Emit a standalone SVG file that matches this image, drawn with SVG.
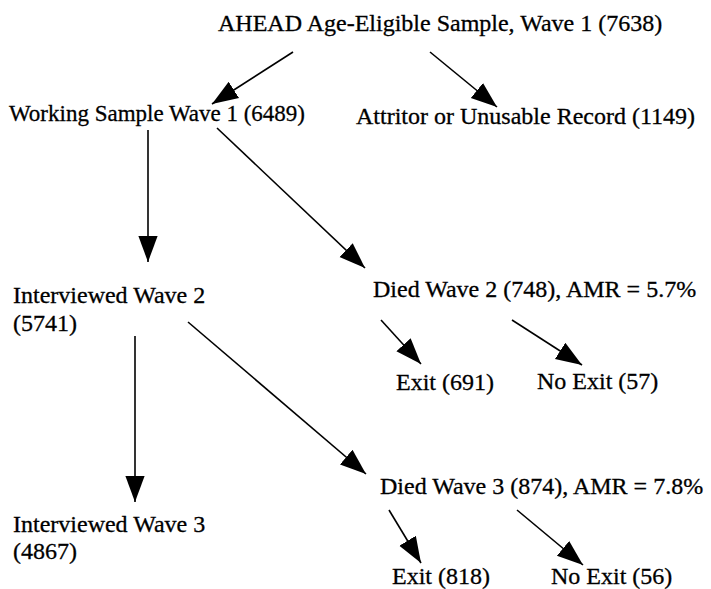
<svg xmlns="http://www.w3.org/2000/svg" width="711" height="589" viewBox="0 0 711 589">
<defs>
<marker id="ah" viewBox="0 0 10 10" refX="10" refY="5" markerWidth="26" markerHeight="26" markerUnits="userSpaceOnUse" orient="auto">
<path d="M0,1.3 L10,5 L0,8.7 Z" fill="#000"/>
</marker>
<style>
text{font-family:"Liberation Serif","Times New Roman",serif;font-size:24px;fill:#000;stroke:#000;stroke-width:0.3}
.c line{stroke:#000;stroke-width:1.6;marker-end:url(#ah)}
</style>
</defs>
<rect width="711" height="589" fill="#fff"/>
<g id="n-ahead"><text x="218" y="31">AHEAD Age-Eligible Sample, Wave 1 (7638)</text></g>
<g id="n-working"><text x="9" y="121" textLength="296" lengthAdjust="spacingAndGlyphs">Working Sample Wave 1 (6489)</text></g>
<g id="n-attritor"><text x="356" y="124">Attritor or Unusable Record (1149)</text></g>
<g id="n-int2"><text x="13" y="303">Interviewed Wave 2</text><text x="13" y="331">(5741)</text></g>
<g id="n-died2"><text x="373" y="297">Died Wave 2 (748), AMR = 5.7%</text></g>
<g id="n-exit2"><text x="396" y="390">Exit (691)</text></g>
<g id="n-noexit2"><text x="537" y="389">No Exit (57)</text></g>
<g id="n-int3"><text x="13" y="532">Interviewed Wave 3</text><text x="13" y="559">(4867)</text></g>
<g id="n-died3"><text x="380" y="494">Died Wave 3 (874), AMR = 7.8%</text></g>
<g id="n-exit3"><text x="392" y="584">Exit (818)</text></g>
<g id="n-noexit3"><text x="551" y="584">No Exit (56)</text></g>
<g class="c" id="connectors">
<line x1="293" y1="52" x2="212" y2="104"/>
<line x1="430" y1="52" x2="497" y2="107"/>
<line x1="148" y1="130" x2="148" y2="262"/>
<line x1="217" y1="128" x2="365" y2="268"/>
<line x1="381" y1="320" x2="421" y2="364"/>
<line x1="512" y1="320" x2="582" y2="365"/>
<line x1="135" y1="336" x2="135" y2="502"/>
<line x1="188" y1="322" x2="366" y2="474"/>
<line x1="389" y1="510" x2="421" y2="563"/>
<line x1="517" y1="510" x2="583" y2="565"/>
</g>
</svg>
